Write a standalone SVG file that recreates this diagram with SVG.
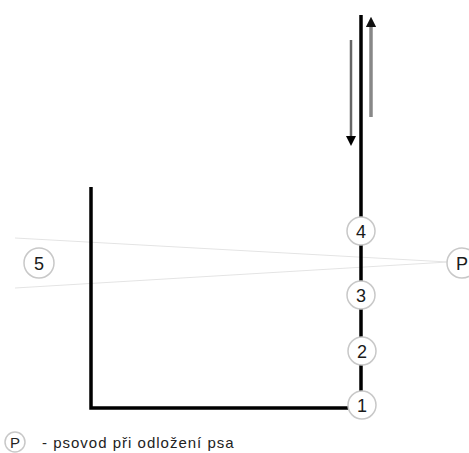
<svg xmlns="http://www.w3.org/2000/svg" width="469" height="453" viewBox="0 0 469 453">
<style>
.c{fill:#fff;stroke:#c8c8c8;stroke-width:1.5}
.t{font-family:"Liberation Sans",Arial,sans-serif;font-size:18px;fill:#1a1a1a;text-anchor:middle}
.w{stroke:#000;stroke-width:3.5;fill:none}
.g{stroke:#e4e4e4;stroke-width:1.2;fill:none}
.l{font-family:"Liberation Sans",Arial,sans-serif;font-size:15px;fill:#222}
</style>
<defs>
<marker id="ah" markerWidth="4" markerHeight="4" refX="2" refY="2" orient="auto" markerUnits="strokeWidth"><path d="M0,0 L4,2 L0,4 z" fill="#000"/></marker>
<marker id="ag" markerWidth="3" markerHeight="3" refX="1.5" refY="1.5" orient="auto" markerUnits="strokeWidth"><path d="M0,0 L3,1.5 L0,3 z" fill="#111"/></marker>
</defs>
<g id="connectors">
<line class="g" x1="15" y1="238" x2="448" y2="262"/>
<line class="g" x1="15" y1="288" x2="448" y2="262"/>
<polyline class="w" points="91,187 91,408 350,408"/>
<line class="w" x1="361" y1="15" x2="361" y2="405"/>
<line x1="351" y1="40" x2="351" y2="141" stroke="#666" stroke-width="2.5" marker-end="url(#ah)"/>
<line x1="371" y1="117" x2="371" y2="22" stroke="#888" stroke-width="3.5" marker-end="url(#ag)"/>
</g>
<g id="n4"><circle class="c" cx="361" cy="231" r="14"/><text class="t" x="361" y="237.5">4</text></g>
<g id="n3"><circle class="c" cx="361" cy="295" r="14"/><text class="t" x="361" y="301.5">3</text></g>
<g id="n2"><circle class="c" cx="362" cy="351" r="14"/><text class="t" x="362" y="357.5">2</text></g>
<g id="n1"><circle class="c" cx="362" cy="405" r="14"/><text class="t" x="362" y="411.5">1</text></g>
<g id="n5"><circle class="c" cx="39" cy="263" r="15"/><text class="t" x="39" y="269.5">5</text></g>
<g id="nP"><circle class="c" cx="462" cy="263" r="15"/><text class="t" x="462" y="269.5">P</text></g>
<g id="legend">
<circle class="c" cx="15" cy="442" r="10"/>
<text class="l" x="15" y="447.5" text-anchor="middle">P</text>
<text class="l" x="42" y="448" letter-spacing="1">- psovod při odložení psa</text>
</g>
</svg>
